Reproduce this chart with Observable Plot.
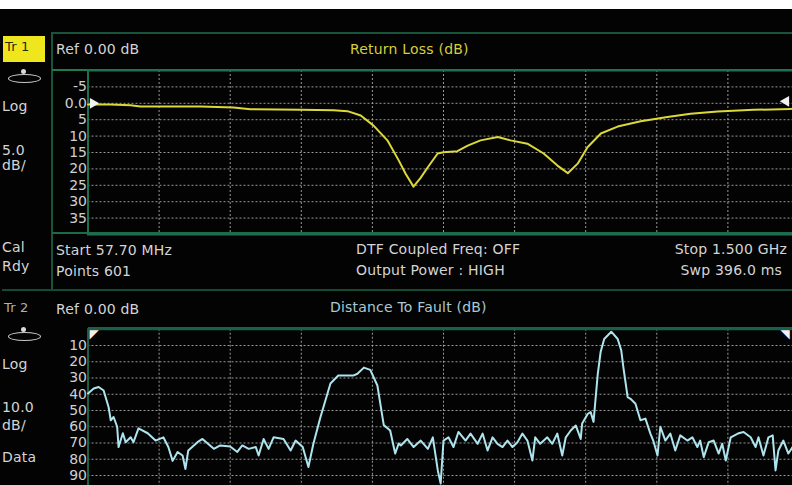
<!DOCTYPE html>
<html><head><meta charset="utf-8">
<script src="https://cdn.jsdelivr.net/npm/d3@7"></script>
<script src="https://cdn.jsdelivr.net/npm/@observablehq/plot@0.6"></script>
<style>
html,body{margin:0;padding:0;background:#fff;}
#screen{position:relative;width:792px;height:485px;overflow:hidden;background:#fff;font-family:"DejaVu Sans",sans-serif;}
#bg{position:absolute;left:0;top:9px;width:792px;height:476px;background:#030303;}
.t{position:absolute;font-size:14px;line-height:14px;letter-spacing:0.2px;color:#d4d4d4;white-space:nowrap;}
.hl{position:absolute;height:2px;background:#175439;}
.vl{position:absolute;width:2px;background:#175439;}
.plot{position:absolute;left:0;}
#screen svg{max-width:none !important;}
.ell{position:absolute;border:1.5px solid #c8c8c8;border-radius:50%;width:31px;height:7px;}
.dotc{position:absolute;width:5px;height:5px;border-radius:50%;background:#d8d8d8;}
</style></head><body>
<div id="screen">
  <div id="bg"></div>
  <!-- frame lines -->
  <div class="hl" style="left:52px;top:32px;width:740px;"></div>
  <div class="vl" style="left:51px;top:32px;height:259px;"></div>
  <div class="hl" style="left:52px;top:69px;width:740px;background:#1f7a52;"></div>
  <div class="hl" style="left:52px;top:232px;width:740px;background:#1b6a48;"></div>
  <div class="hl" style="left:2px;top:289px;width:790px;background:#144a33;"></div>
  <div class="hl" style="left:88px;top:327px;width:704px;background:#1a6048;"></div>

  <!-- left column, trace 1 -->
  <div style="position:absolute;left:3px;top:36px;width:42px;height:26px;background:#f0e61e;"></div>
  <div class="t" style="left:5px;top:40px;font-size:13px;color:#2a2a00;">Tr 1</div>
  <div class="dotc" style="left:21px;top:69px;"></div>
  <div class="ell" style="left:8px;top:74px;"></div>
  <div class="t" style="left:2px;top:99px;">Log</div>
  <div class="t" style="left:2px;top:143px;">5.0</div>
  <div class="t" style="left:2px;top:158px;">dB/</div>
  <div class="t" style="left:2px;top:240px;">Cal</div>
  <div class="t" style="left:2px;top:259px;">Rdy</div>

  <!-- header trace 1 -->
  <div class="t" style="left:56px;top:42px;">Ref 0.00 dB</div>
  <div class="t" style="left:350px;top:42px;color:#d6cf3a;">Return Loss (dB)</div>

  <!-- info box -->
  <div class="t" style="left:56px;top:243px;">Start 57.70 MHz</div>
  <div class="t" style="left:56px;top:264px;">Points 601</div>
  <div class="t" style="left:356px;top:242px;">DTF Coupled Freq: OFF</div>
  <div class="t" style="left:356px;top:263px;">Output Power : HIGH</div>
  <div class="t" style="right:5px;top:242px;">Stop 1.500 GHz</div>
  <div class="t" style="right:10px;top:263px;">Swp 396.0 ms</div>

  <!-- trace 2 header / left column -->
  <div class="t" style="left:4px;top:301px;font-size:13px;color:#b0b0b0;">Tr 2</div>
  <div class="t" style="left:56px;top:302px;">Ref 0.00 dB</div>
  <div class="t" style="left:330px;top:300px;color:#a9c9d2;">Distance To Fault (dB)</div>
  <div class="dotc" style="left:21px;top:327px;"></div>
  <div class="ell" style="left:8px;top:332px;"></div>
  <div class="t" style="left:2px;top:357px;">Log</div>
  <div class="t" style="left:2px;top:400px;">10.0</div>
  <div class="t" style="left:2px;top:418px;">dB/</div>
  <div class="t" style="left:2px;top:450px;">Data</div>

  <div id="p1" class="plot" style="top:62px;"></div>
  <div id="p2" class="plot" style="top:320px;"></div>
</div>
<script>
// ---- Trace 1: Return Loss (dB) vs frequency ----
const startMHz = 57.7;
const stopMHz = 1500;
const rlFreqMHz = [57.7, 103, 144, 164, 286, 353, 387, 489, 556, 584,
  611, 637, 665, 688, 702, 718, 732, 747, 767, 779,
  807, 828, 854, 889, 915, 949, 982, 1010, 1031, 1051,
  1071, 1098, 1132, 1179, 1233, 1280, 1335, 1408, 1483, 1500];
const rlDb = [0.4, 0.4, 0.6, 1.0, 1.0, 1.3, 1.8, 2.0, 2.1, 2.4,
  3.7, 6.8, 11.3, 17.4, 21.5, 25.4, 22.8, 19.5, 15.3, 14.9,
  14.6, 12.9, 11.3, 10.3, 11.3, 12.3, 15.3, 19.0, 21.3, 18.4,
  13.4, 9.2, 7.1, 5.5, 4.2, 3.2, 2.5, 2.0, 1.7, 1.6];
const rlTicks = [-5, 0, 5, 10, 15, 20, 25, 30, 35];
const rlDomain = [-10, 40];

// ---- Trace 2: Distance To Fault (dB) vs distance (graticule divisions) ----
const dtfPos = [0.00, 0.08, 0.15, 0.22, 0.29, 0.32, 0.36, 0.41, 0.43, 0.49,
  0.53, 0.60, 0.64, 0.71, 0.84, 0.95, 1.06, 1.13, 1.19, 1.26,
  1.33, 1.37, 1.41, 1.54, 1.61, 1.77, 1.86, 2.00, 2.10, 2.17,
  2.26, 2.36, 2.40, 2.47, 2.54, 2.61, 2.75, 2.85, 2.92, 3.02,
  3.10, 3.17, 3.27, 3.41, 3.52, 3.73, 3.79, 3.88, 3.97, 4.07,
  4.16, 4.25, 4.32, 4.37, 4.40, 4.49, 4.58, 4.68, 4.78, 4.85,
  4.92, 4.96, 5.00, 5.07, 5.14, 5.21, 5.31, 5.38, 5.48, 5.55,
  5.62, 5.69, 5.76, 5.83, 5.90, 5.97, 6.04, 6.11, 6.18, 6.25,
  6.29, 6.36, 6.46, 6.53, 6.60, 6.67, 6.72, 6.79, 6.86, 6.93,
  6.95, 7.03, 7.07, 7.11, 7.17, 7.21, 7.26, 7.36, 7.45, 7.50,
  7.53, 7.59, 7.63, 7.70, 7.77, 7.84, 7.91, 7.95, 8.01, 8.05,
  8.12, 8.19, 8.26, 8.33, 8.43, 8.50, 8.57, 8.61, 8.66, 8.73,
  8.80, 8.87, 8.92, 8.97, 9.04, 9.14, 9.22, 9.32, 9.39, 9.43,
  9.50, 9.57, 9.63, 9.67, 9.71, 9.78, 9.85, 9.91, 10.00];
const dtfDb = [39.5, 36.5, 35.5, 37.7, 48, 56, 54, 60, 72.5, 64,
  69.5, 66.5, 69.5, 61, 64, 68.5, 66.5, 72.5, 81, 75.5,
  77.7, 86, 74.6, 69.5, 67.5, 73.6, 71.5, 72.2, 75.5, 71.5,
  73.6, 72.5, 77.7, 67.5, 73.6, 66.5, 67.5, 74.6, 68.5, 72.5,
  84.8, 70.5, 54, 33.4, 28.5, 28.5, 27.4, 23.6, 25, 34.6,
  59, 62.3, 76.5, 70.3, 71.5, 67.5, 72.5, 68.5, 73.6, 66.5,
  86.9, 95, 68.5, 66.5, 72.5, 63.2, 68.5, 64.2, 70.5, 64.2,
  74.6, 66.5, 70.5, 72.5, 68.5, 72.5, 69.5, 64.2, 68.5, 80.8,
  66.5, 70.5, 66.5, 70.5, 64.2, 77.7, 66.5, 62.3, 59.2, 67.5,
  58, 52, 51, 57, 27.4, 14, 6, 1.5, 6, 13,
  23.4, 41.8, 42.8, 45.8, 56, 55, 64.2, 68.5, 77.7, 60,
  68.5, 64.2, 74.6, 65.3, 68.5, 66.5, 72.5, 68.5, 78.7, 69.5,
  68.5, 76.5, 70.5, 80.8, 66.5, 64.2, 63.2, 66.5, 72.5, 66.5,
  77.7, 66.5, 65.3, 86.9, 74.6, 68.5, 76.5, 72.5, 70];
const dtfTicks = [10, 20, 30, 40, 50, 60, 70, 80, 90];
const dtfDomain = [0, 100];
const divisions = 10;

const rlData = rlFreqMHz.map((f, i) => ({f, db: rlDb[i]}));
const dtfData = dtfPos.map((d, i) => ({d, db: dtfDb[i]}));
const freqGrid = d3.range(1, divisions).map(k => startMHz + k * (stopMHz - startMHz) / divisions);
const posGrid = d3.range(1, divisions);

const textColor = "#d0d0d0";
const grid = {stroke: "#a8a8a8", strokeOpacity: 0.9, strokeDasharray: "2,2", strokeWidth: 1};
const frameGreen = "#1f7050";
const baseStyle = {background: "transparent", color: textColor, fontFamily: "DejaVu Sans, sans-serif", fontSize: "14px", overflow: "hidden"};

const p1 = Plot.plot({
  width: 800, height: 180,
  marginLeft: 87.5, marginRight: 1.5, marginTop: 8, marginBottom: 8,
  style: baseStyle,
  x: {domain: [startMHz, stopMHz], axis: null},
  y: {domain: rlDomain, range: [8, 172], axis: null},
  marks: [
    Plot.gridX(freqGrid, grid),
    Plot.gridY(rlTicks, grid),
    Plot.axisY(rlTicks, {anchor: "left", tickSize: 0, tickPadding: 1, label: null, fill: textColor, fontSize: 14,
      tickFormat: d => d === 0 ? "0.0" : String(d)}),
    Plot.frame({stroke: frameGreen, strokeWidth: 2}),
    Plot.line(rlData, {x: "f", y: "db", stroke: "#dcd83a", strokeWidth: 2}),
    Plot.dot([{f: startMHz, db: 0}], {x: "f", y: "db", symbol: "triangle", rotate: 90, r: 4, fill: "#f2f2f2", dx: 5}),
    Plot.dot([{f: stopMHz, db: 0}], {x: "f", y: "db", symbol: "triangle", rotate: -90, r: 4, fill: "#f2f2f2", dx: -13, dy: -2})
  ]
});
document.getElementById("p1").appendChild(p1);

const p2 = Plot.plot({
  width: 800, height: 180,
  marginLeft: 87.5, marginRight: 1.5, marginTop: 8.75, marginBottom: 8.75,
  style: baseStyle,
  x: {domain: [0, divisions], axis: null},
  y: {domain: dtfDomain, range: [8.75, 171.25], axis: null},
  marks: [
    Plot.gridX(posGrid, grid),
    Plot.gridY(dtfTicks, grid),
    Plot.axisY(dtfTicks, {anchor: "left", tickSize: 0, tickPadding: 1, label: null, fill: textColor, fontSize: 14}),
    Plot.frame({stroke: "#1a6048", strokeWidth: 2}),
    Plot.line(dtfData, {x: "d", y: "db", stroke: "#aee4ee", strokeWidth: 2}),
    Plot.text([{d: 0, db: 0}], {x: "d", y: "db", text: () => "◤", fill: "#f2f2f2", fontSize: 12, dx: 6, dy: 5}),
    Plot.text([{d: divisions, db: 0}], {x: "d", y: "db", text: () => "◥", fill: "#f2f2f2", fontSize: 12, dx: -14, dy: 5})
  ]
});
document.getElementById("p2").appendChild(p2);
</script>
</body></html>
